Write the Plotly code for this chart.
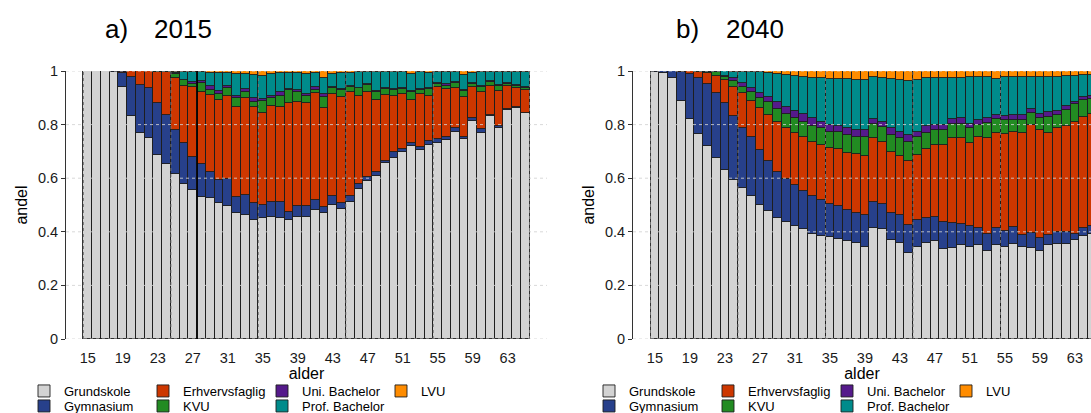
import plotly.graph_objects as go

ages = list(range(15, 66))
tick_ages = [15, 19, 23, 27, 31, 35, 39, 43, 47, 51, 55, 59, 63]

categories = ["Grundskole", "Gymnasium", "Erhvervsfaglig", "KVU",
              "Uni. Bachelor", "Prof. Bachelor", "LVU"]
colors = ["#D3D3D3", "#27408B", "#CD3700", "#228B22",
          "#551A8B", "#008B8B", "#FF8C00"]

# ---- a) 2015 : share by age (15..65) ----
a_grundskole = [1.000, 1.000, 1.000, .995, .939, .831, .768, .749, .687, .653,
                .615, .578, .555, .529, .525, .507, .498, .472, .461, .443,
                .453, .457, .453, .445, .457, .455, .480, .472, .501, .486,
                .513, .559, .591, .609, .656, .675, .697, .720, .706, .724,
                .733, .743, .771, .747, .814, .768, .832, .789, .855, .861, .842]
a_gymnasium = [0, 0, 0, .005, .054, .145, .179, .186, .193, .182,
               .164, .152, .123, .124, .097, .087, .098, .057, .077, .064,
               .048, .056, .060, .028, .041, .043, .039, .020, .033, .022,
               .019, .020, .014, .013, .010, .022, .011, .012, .011, .013,
               .014, .010, .018, .008, .010, .015, .004, .006, .005, .005, .003]
a_erhverv = [0, 0, 0, 0, .005, .024, .053, .065, .118, .163,
             .194, .215, .261, .270, .289, .298, .312, .338, .363, .358,
             .341, .358, .352, .407, .385, .382, .398, .369, .379, .396,
             .388, .329, .315, .270, .245, .211, .205, .160, .196, .171,
             .195, .180, .146, .149, .118, .140, .109, .132, .085, .072, .084]
a_kvu = [0, 0, 0, 0, 0, 0, 0, 0, .001, 0,
         .017, .020, .013, .031, .018, .022, .027, .031, .022, .021,
         .047, .027, .043, .049, .037, .028, .012, .043, .025, .025,
         .020, .027, .028, .031, .021, .021, .020, .031, .016, .024,
         .010, .012, .019, .023, .008, .019, .013, .018, .005, .007, .009]
a_uni = [0, 0, 0, 0, .001, 0, 0, 0, .001, 0,
         .002, .002, .006, .009, .016, .011, .010, .010, .009, .012,
         .005, .010, .012, .003, .009, .006, .010, .009, .004, .004,
         .005, .003, .002, .002, .003, .003, .005, .002, .003, .003,
         .004, .007, .004, .003, .004, .003, .005, .003, .004, .003, .004]
a_prof = [0, 0, 0, 0, .001, 0, 0, 0, 0, .002,
          .005, .030, .039, .032, .048, .068, .048, .080, .056, .087,
          .089, .080, .071, .059, .062, .075, .052, .062, .048, .058,
          .046, .057, .045, .070, .062, .063, .059, .063, .063, .058,
          .039, .043, .037, .055, .039, .050, .034, .047, .043, .047, .056]
a_lvu = [0, 0, 0, 0, 0, 0, 0, 0, 0, 0,
         .003, .003, .003, .005, .007, .007, .007, .012, .012, .015,
         .017, .012, .009, .009, .009, .011, .009, .025, .010, .009,
         .009, .005, .005, .005, .003, .005, .003, .012, .005, .007,
         .005, .005, .005, .015, .007, .005, .003, .005, .003, .005, .002]

# ---- b) 2040 : share by age (15..65) ----
b_grundskole = [.998, .991, .973, .889, .820, .764, .722, .675, .632, .594,
                .563, .535, .501, .476, .451, .435, .422, .410, .393, .386,
                .380, .374, .364, .358, .345, .414, .410, .368, .358, .320,
                .342, .358, .364, .337, .339, .349, .345, .352, .327, .352,
                .345, .354, .345, .339, .327, .352, .355, .355, .370, .383, .390]
b_gymnasium = [.002, .009, .027, .106, .168, .209, .230, .244, .248, .238,
               .226, .217, .203, .189, .174, .161, .153, .143, .139, .132,
               .123, .122, .119, .114, .116, .099, .093, .104, .103, .104,
               .101, .093, .091, .099, .093, .080, .075, .062, .066, .062,
               .059, .063, .044, .056, .049, .037, .046, .044, .021, .033, .030]
b_erhverv = [0, 0, 0, .005, .012, .024, .041, .064, .085, .110,
             .128, .137, .157, .171, .184, .190, .195, .202, .202, .206,
             .209, .212, .210, .217, .223, .236, .231, .224, .222, .241,
             .244, .257, .269, .288, .317, .320, .313, .341, .356, .354,
             .360, .354, .379, .404, .403, .379, .388, .394, .420, .414, .420]
b_kvu = [0, 0, 0, 0, 0, .003, .004, .012, .013, .021,
         .025, .031, .037, .047, .048, .054, .054, .056, .062, .062,
         .062, .063, .068, .064, .069, .052, .056, .065, .066, .069,
         .065, .062, .056, .056, .053, .053, .056, .044, .058, .052,
         .053, .046, .049, .043, .045, .062, .047, .062, .065, .062, .055]
b_uni = [0, 0, 0, 0, 0, 0, .001, .002, .003, .010,
         .012, .018, .021, .019, .026, .027, .027, .028, .028, .025,
         .025, .025, .025, .027, .027, .020, .021, .025, .025, .027,
         .022, .023, .019, .019, .018, .022, .012, .018, .019, .014,
         .015, .019, .019, .016, .015, .016, .016, .015, .007, .010, .010]
b_prof = [0, 0, 0, 0, 0, 0, .002, .003, .019, .025,
          .044, .059, .076, .089, .105, .118, .130, .137, .149, .162,
          .171, .174, .184, .186, .186, .155, .162, .183, .192, .203,
          .192, .180, .176, .176, .153, .151, .175, .159, .150, .135,
          .147, .143, .140, .118, .137, .130, .127, .113, .100, .083, .080]
b_lvu = [0, 0, 0, 0, 0, 0, 0, 0, 0, .002,
         .002, .003, .005, .009, .012, .015, .019, .024, .027, .027,
         .030, .030, .030, .034, .034, .024, .027, .031, .034, .036,
         .034, .027, .025, .025, .027, .025, .024, .024, .024, .031,
         .021, .021, .024, .024, .024, .024, .021, .017, .017, .015, .015]

panel_a = [a_grundskole, a_gymnasium, a_erhverv, a_kvu, a_uni, a_prof, a_lvu]
panel_b = [b_grundskole, b_gymnasium, b_erhverv, b_kvu, b_uni, b_prof, b_lvu]

FONT = "Liberation Sans, Arial, sans-serif"
W, H = 1091, 413
# legend rows: row 1 = Grundskole, Erhvervsfaglig, Uni. Bachelor, LVU ; row 2 = the rest
row_of = [1, 2, 1, 2, 1, 2, 1]

fig = go.Figure()
for panel, xa, ya, legs in [(panel_a, "x", "y", ("legend", "legend2")),
                            (panel_b, "x2", "y2", ("legend3", "legend4"))]:
    for name, col, vals, row in zip(categories, colors, panel, row_of):
        extra = {"legendwidth": 120} if name == "Prof. Bachelor" else {}
        fig.add_trace(go.Bar(
            x=ages, y=vals, name=name, xaxis=xa, yaxis=ya,
            marker=dict(color=col, line=dict(color="#1e1e1e", width=0.9)),
            width=1.0, legend=legs[row - 1], hoverinfo="x+y+name", **extra))

ax_common = dict(showgrid=False, zeroline=False, showline=False, ticks="",
                 tickmode="array", tickvals=tick_ages,
                 tickfont=dict(family=FONT, size=14.5, color="#1a1a1a"),
                 title=dict(text="alder", font=dict(family=FONT, size=16, color="#000"),
                            standoff=1),
                 ticklabelstandoff=8)
ay_common = dict(range=[0, 1], showgrid=False, zeroline=False, showline=True,
                 linecolor="#333", linewidth=1, ticks="outside", ticklen=4,
                 tickcolor="#333", tickvals=[0, 0.2, 0.4, 0.6, 0.8, 1],
                 ticktext=["0", "0.2", "0.4", "0.6", "0.8", "1"],
                 tickfont=dict(family=FONT, size=14.5, color="#1a1a1a"),
                 title=dict(text="andel", font=dict(family=FONT, size=16, color="#000"),
                            standoff=6))

xa_dom = [66 / W, 547 / W]
xb_dom = [633 / W, 1.0]

fig.update_layout(
    width=W, height=H,
    margin=dict(l=0, r=0, t=71, b=74, autoexpand=False),
    paper_bgcolor="white", plot_bgcolor="white",
    barmode="stack", bargap=0,
    font=dict(family=FONT),
    xaxis=dict(domain=xa_dom, range=[12.5, 67.5], anchor="y", **ax_common),
    xaxis2=dict(domain=xb_dom, range=[12.5, 12.5 + (W - 633) / 8.75], anchor="y2", **ax_common),
    yaxis=dict(domain=[0, 1], anchor="x", **ay_common),
    yaxis2=dict(domain=[0, 1], anchor="x2", **ay_common),
    showlegend=True,
)

leg_common = dict(orientation="h", xanchor="left", yanchor="top",
                  entrywidth=74, entrywidthmode="pixels",
                  font=dict(family=FONT, size=13, color="#000"),
                  bgcolor="rgba(0,0,0,0)", borderwidth=0, traceorder="normal",
                  itemclick=False, itemdoubleclick=False)
y_row1 = -(376 - 339) / 268
y_row2 = -(391 - 339) / 268
fig.update_layout(
    legend=dict(x=24 / W, y=y_row1, **leg_common),
    legend2=dict(x=24 / W, y=y_row2, **leg_common),
    legend3=dict(x=589 / W, y=y_row1, **leg_common),
    legend4=dict(x=589 / W, y=y_row2, **leg_common),
)

# panel titles
title_y = 1 + (71 - 29) / 268
for lab, yr, xl, xy in [("a)", "2015", 103, 152), ("b)", "2040", 674, 724)]:
    fig.add_annotation(text=lab, xref="paper", yref="paper", x=xl / W, y=title_y,
                       xanchor="left", yanchor="middle", showarrow=False,
                       font=dict(family=FONT, size=26, color="#000"))
    fig.add_annotation(text=yr, xref="paper", yref="paper", x=xy / W, y=title_y,
                       xanchor="left", yanchor="middle", showarrow=False,
                       font=dict(family=FONT, size=26, color="#000"))

# dotted grid drawn above the bars (as in the reference)
shapes = []
for xr, yr, xmax in [("x", "y", 65.5), ("x2", "y2", None)]:
    for gy in [0, 0.2, 0.4, 0.6, 0.8, 1.0]:
        shapes.append(dict(type="line", xref=xr + " domain", yref=yr, x0=0, x1=1,
                           y0=gy, y1=gy, layer="above",
                           line=dict(color="rgba(210,210,210,0.85)", width=1, dash="dot")))
    for gx in [14.5, 24.5, 34.5, 44.5, 54.5] + ([xmax] if xmax else []):
        shapes.append(dict(type="line", xref=xr, yref=yr + " domain", x0=gx, x1=gx,
                           y0=0, y1=1, layer="above",
                           line=dict(color="rgba(120,120,120,0.9)", width=1, dash="dot")))
shapes.append(dict(type="line", xref="x", yref="y domain", x0=27.5, x1=27.5,
                   y0=0, y1=1, layer="above", line=dict(color="#000", width=1.5)))
fig.update_layout(shapes=shapes)

fig.write_html("out.html",
               config={"displayModeBar": False},
               post_script="document.body.style.margin='0';"
                           "document.body.style.overflow='hidden';")
